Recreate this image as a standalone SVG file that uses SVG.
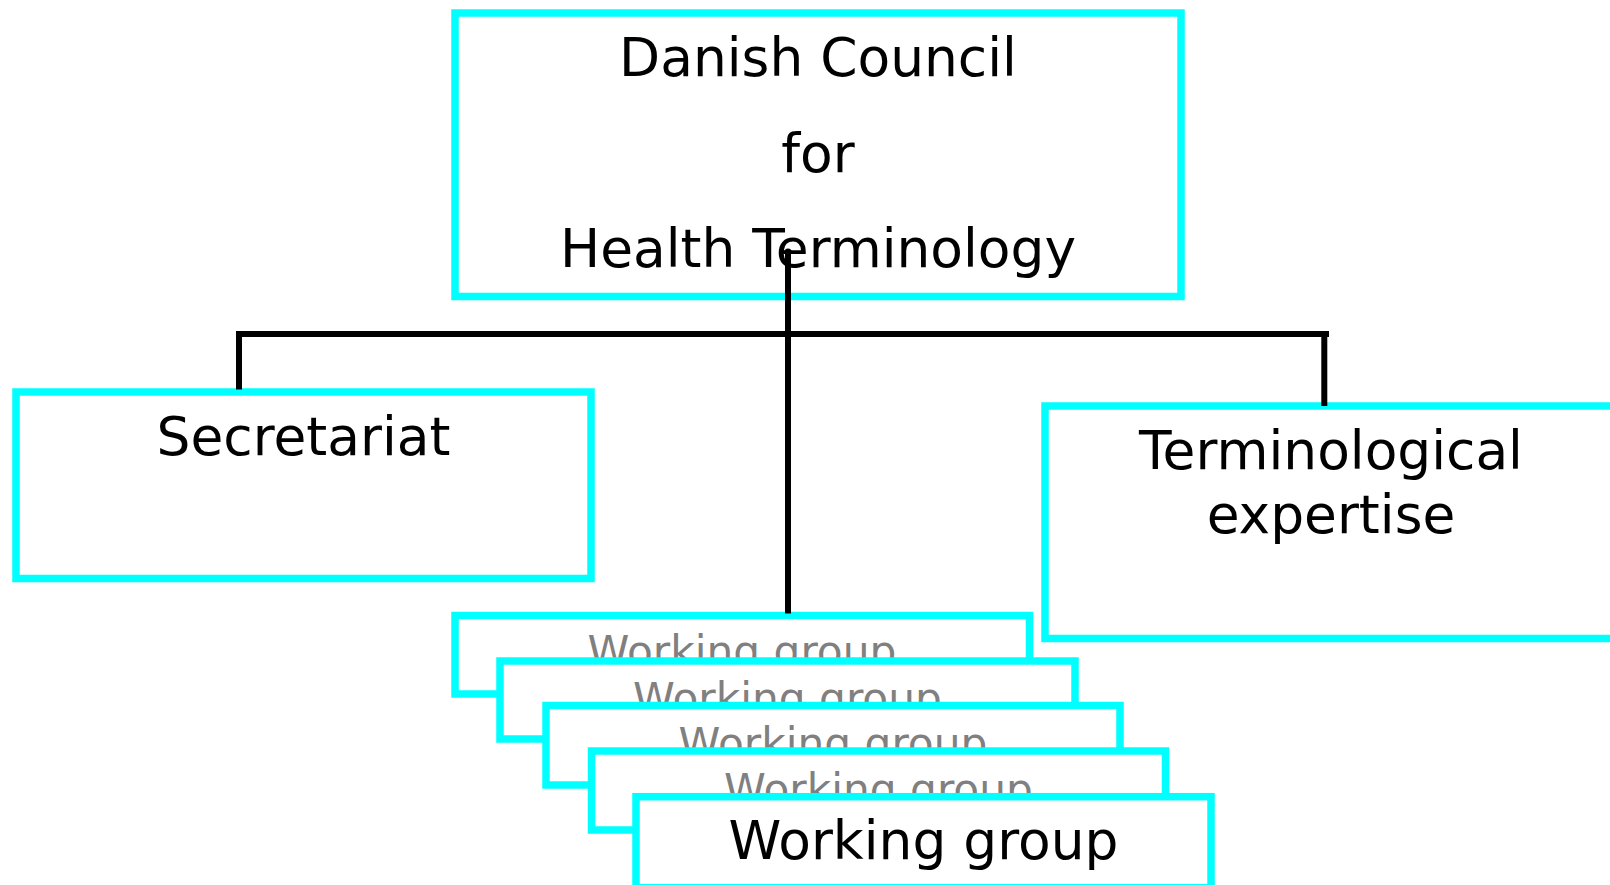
<svg xmlns="http://www.w3.org/2000/svg" width="1610" height="885" viewBox="0 0 1610 885">
  <style>
    .box { fill: #ffffff; stroke: #00ffff; stroke-width: 7.5; }
    .t { font-family: "DejaVu Sans", Verdana, sans-serif; font-size: 53.4px; text-anchor: middle; fill: #000000; }
    .g { fill: #808080; font-size: 42.3px; }
    .conn { stroke: #000000; stroke-width: 6; fill: none; }
  </style>
  <rect width="1610" height="885" fill="#ffffff"/>
  <g id="council">
    <rect class="box" x="455" y="13" width="726" height="283.5"/>
    <text class="t" x="818" y="76">Danish Council</text>
    <text class="t" x="818" y="171.5">for</text>
    <text class="t" x="818" y="266.5">Health Terminology</text>
  </g>
  <g id="secretariat">
    <rect class="box" x="16" y="392" width="575" height="186.5"/>
    <text class="t" x="303.5" y="455">Secretariat</text>
  </g>
  <g id="expertise">
    <rect class="box" x="1045" y="406" width="572" height="232.5"/>
    <text class="t" x="1331" y="469">Terminological</text>
    <text class="t" x="1331" y="532.5">expertise</text>
  </g>
  <g id="wg1">
    <rect class="box" x="455" y="615.5" width="574.5" height="78.5"/>
    <text class="t g" x="742" y="666">Working group</text>
  </g>
  <g id="wg2">
    <rect class="box" x="500" y="661" width="575" height="78"/>
    <text class="t g" x="787.5" y="712.5">Working group</text>
  </g>
  <g id="wg3">
    <rect class="box" x="546" y="705.5" width="574" height="79.5"/>
    <text class="t g" x="833" y="757.5">Working group</text>
  </g>
  <g id="wg4">
    <rect class="box" x="591.5" y="751" width="574" height="79"/>
    <text class="t g" x="878.5" y="803.5">Working group</text>
  </g>
  <g id="wg5">
    <rect class="box" x="636" y="796.7" width="575" height="91"/>
    <text class="t" x="923.5" y="858.5">Working group</text>
  </g>
  <g id="connectors">
    <line class="conn" x1="236" y1="334" x2="1329" y2="334"/>
    <line class="conn" x1="788" y1="252" x2="788" y2="613.5"/>
    <circle cx="788" cy="252" r="3.6" fill="#000000"/>
    <line class="conn" x1="239" y1="334" x2="239" y2="389.5"/>
    <line class="conn" x1="1324.3" y1="334" x2="1324.3" y2="406"/>
  </g>
</svg>
